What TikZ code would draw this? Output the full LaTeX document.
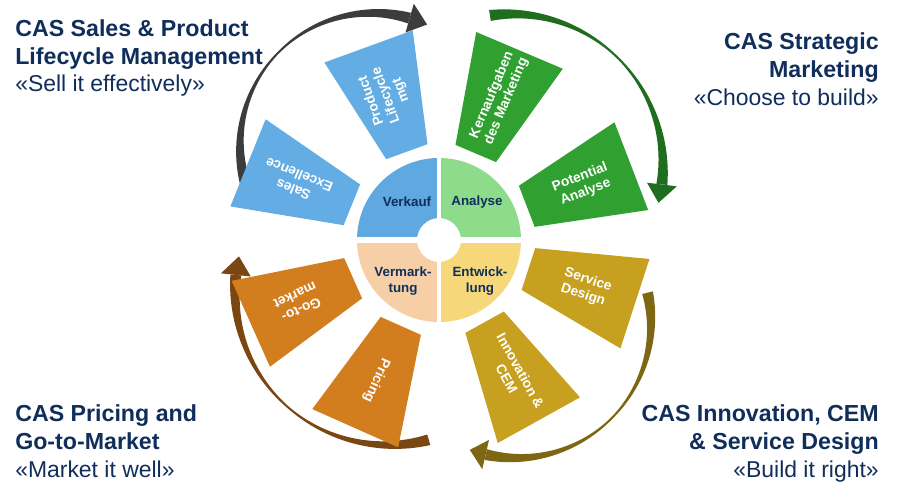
\documentclass[tikz,border=0pt]{standalone}
\usepackage{fontspec}
\setmainfont{Liberation Sans}
\usetikzlibrary{calc}
\definecolor{navy}{HTML}{102E5C}
\definecolor{cblue}{HTML}{64ADE4}
\definecolor{cgreen}{HTML}{30A030}
\definecolor{corange}{HTML}{D27D1E}
\definecolor{cgold}{HTML}{C6A01E}
\definecolor{qblue}{HTML}{5FA8E0}
\definecolor{qgreen}{HTML}{8EDB8B}
\definecolor{qpeach}{HTML}{F7CFA6}
\definecolor{qyellow}{HTML}{F6D87A}
\definecolor{agray}{HTML}{3C3C3C}
\definecolor{agreen}{HTML}{1F6E1F}
\definecolor{agold}{HTML}{7D6614}
\definecolor{abrown}{HTML}{7A4612}
\tikzset{
  bladetext/.style={text=white, font=\fontsize{10.3}{11.8}\selectfont\bfseries, align=center, inner sep=0pt},
  quadtext/.style={text=navy, font=\fontsize{10}{11.5}\selectfont\bfseries, align=center, inner sep=0pt},
  titlebold/.style={text=navy, font=\fontsize{17.4}{21}\selectfont\bfseries, inner sep=0pt},
  titlereg/.style={text=navy, font=\fontsize{17.2}{21}\selectfont, inner sep=0pt},
  declare function={wid(\t)=2+9*abs(1-2*\t)*sqrt(abs(1-2*\t));}
}
\newcommand{\bladeshape}[4]{%
  \begin{scope}[shift={(C)}, rotate=#1]
    \fill[#2] (94,-22) -- (206,-47) -- (206,47) -- (94,22) -- cycle;
    \node[bladetext, rotate=#1] (#3) at (154,0) {#4};
  \end{scope}}
\newcommand{\curarrow}[7]{%
  \fill[#7] plot[domain=0:1, samples=60, variable=\t]
      ({#1+(#3+0.5*wid(\t))*cos((#4)+((#5)-(#4))*\t)}, {#2-(#3+0.5*wid(\t))*sin((#4)+((#5)-(#4))*\t)})
    -- plot[domain=0:1, samples=60, variable=\t]
      ({#1+(#3-0.5*wid(1-\t))*cos((#5)+((#4)-(#5))*\t)}, {#2-(#3-0.5*wid(1-\t))*sin((#5)+((#4)-(#5))*\t)})
    -- cycle;
  \fill[#7] ({#1+(#3+15)*cos(#5)}, {#2-(#3+15)*sin(#5)})
    -- ({#1+#3*cos(#6)}, {#2-#3*sin(#6)})
    -- ({#1+(#3-15)*cos(#5)}, {#2-(#3-15)*sin(#5)}) -- cycle;}
\begin{document}
\begin{tikzpicture}[x=0.75pt, y=-0.75pt]
\useasboundingbox (0,0) rectangle (900,500);
\fill[white] (0,0) rectangle (900,500);
\coordinate (C) at (439,240);

% curved arrows
\curarrow{373}{146}{133}{197}{74}{66}{agray}
\curarrow{511}{166}{152}{98}{-7}{-14}{agreen}
\curarrow{516}{323}{135}{13}{-103}{-110}{agold}
\curarrow{389}{291}{154}{-75}{-186}{-193}{abrown}

% blades
\bladeshape{21}{cgreen}{bPot}{Potential\\Analyse}
\bladeshape{67}{cgreen}{bKern}{Kernaufgaben\\des Marketing}
\bladeshape{110}{cblue}{bPLM}{Product\\Lifecycle\\mgt}
\bladeshape{158}{cblue}{bSales}{Sales\\Excellence}
\bladeshape{204}{corange}{bGtm}{Go-to-\\market}
\bladeshape{246}{corange}{bPric}{Pricing}
\bladeshape{-61}{cgold}{bInno}{Innovation \&\\CEM}
\bladeshape{-18}{cgold}{bServ}{Service\\Design}

% centre ring
\begin{scope}[shift={(C)}, y=0.75pt]
  \fill[qblue] (180:82) arc[start angle=180, end angle=90, radius=82] -- (90:22) arc[start angle=90, end angle=180, radius=22] -- cycle;
  \fill[qgreen] (90:82) arc[start angle=90, end angle=0, radius=82] -- (0:22) arc[start angle=0, end angle=90, radius=22] -- cycle;
  \fill[qyellow] (0:82) arc[start angle=0, end angle=-90, radius=82] -- (-90:22) arc[start angle=-90, end angle=0, radius=22] -- cycle;
  \fill[qpeach] (-90:82) arc[start angle=-90, end angle=-180, radius=82] -- (-180:22) arc[start angle=-180, end angle=-90, radius=22] -- cycle;
  \draw[white, line width=4pt] (-85,0) -- (85,0);
  \draw[white, line width=2.6pt] (0,-85) -- (0,85);
\end{scope}
\node[quadtext] (qVerk) at (407,202) {Verkauf};
\node[quadtext] (qAna) at (477,202) {Analyse};
\node[quadtext] (qVerm) at (403,281) {Vermark-\\tung};
\node[quadtext] (qEntw) at (480,281) {Entwick-\\lung};

% corner titles
\node[titlebold, anchor=base west] (tl1) at (15,36) {CAS Sales \& Product};
\node[titlebold, anchor=base west] (tl2) at (15,64) {Lifecycle Management};
\node[titlereg, anchor=base west] (tl3) at (15,91) {«Sell it effectively»};

\node[titlebold, anchor=base east] (tr1) at (879,49.5) {CAS Strategic};
\node[titlebold, anchor=base east] (tr2) at (879,77.5) {Marketing};
\node[titlereg, anchor=base east] (tr3) at (879,105) {«Choose to build»};

\node[titlebold, anchor=base west] (bl1) at (15,421.5) {CAS Pricing and};
\node[titlebold, anchor=base west] (bl2) at (15,449.5) {Go-to-Market};
\node[titlereg, anchor=base west] (bl3) at (15,477) {«Market it well»};

\node[titlebold, anchor=base east] (br1) at (879,421.5) {CAS Innovation, CEM};
\node[titlebold, anchor=base east] (br2) at (879,449.5) {\& Service Design};
\node[titlereg, anchor=base east] (br3) at (879,477.5) {«Build it right»};
\end{tikzpicture}
\end{document}
